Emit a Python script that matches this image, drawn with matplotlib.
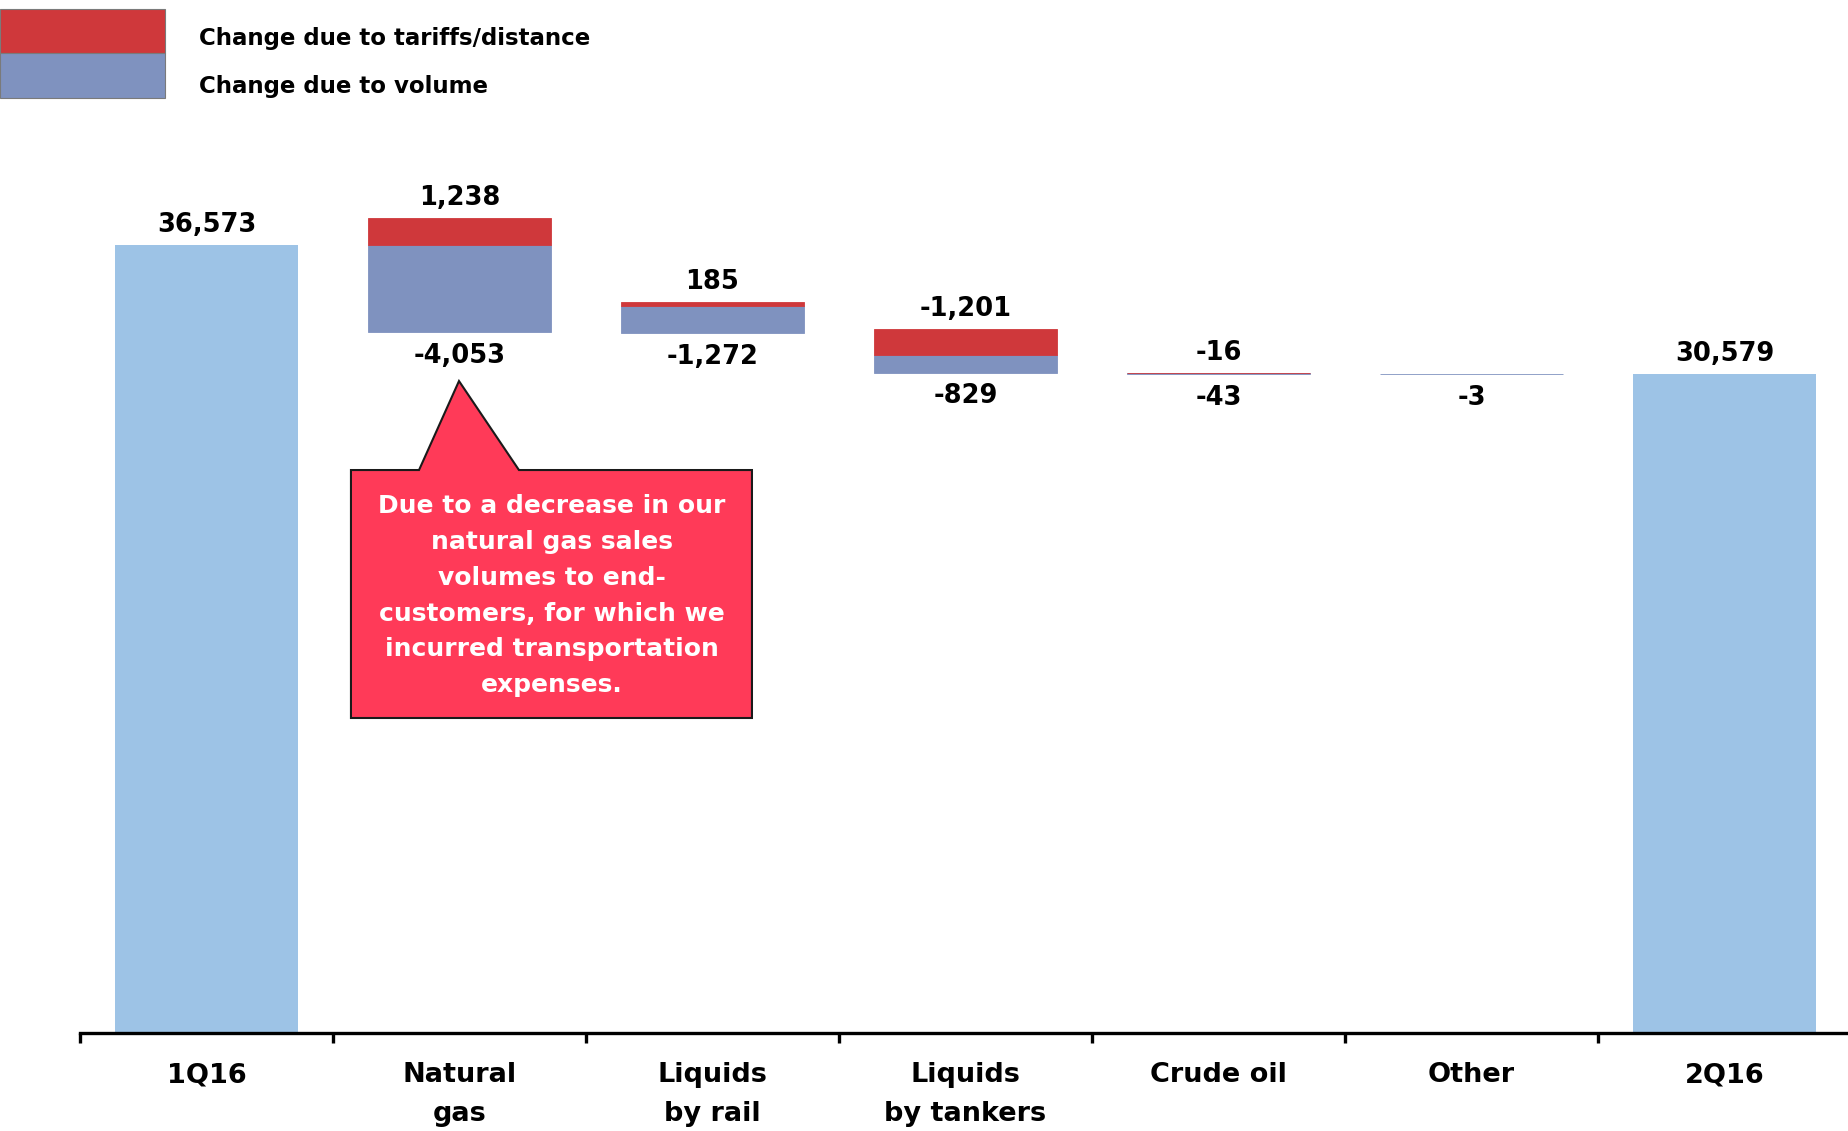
import matplotlib
matplotlib.use("Agg")
import matplotlib.pyplot as plt
from matplotlib.patches import Polygon, Rectangle

categories = ["1Q16", "Natural\ngas", "Liquids\nby rail", "Liquids\nby tankers",
              "Crude oil", "Other", "2Q16"]
start_total = 36573
end_total = 30579
tariff_change = [1238, 185, -1201, -16, None]     # per step, None = no tariff part
volume_change = [-4053, -1272, -829, -43, -3]

RED = "#CF383B"
BLUE = "#7F92BF"
TOTAL = "#9DC3E6"
CALLOUT = "#FF3A58"
FONT = "DejaVu Sans"

plt.rcParams["font.family"] = FONT
plt.rcParams["font.weight"] = "bold"

W, H = 1849, 1131
fig = plt.figure(figsize=(W / 100, H / 100), dpi=100)
ax = fig.add_axes([80 / W, 0.0867, 1771 / W, 0.9133])
ax.set_xlim(-0.5, 6.5)
ax.set_ylim(0, 47950)

bw = 0.72


def fmt(v):
    return f"{v:,}"


def label(x, y, v, above):
    ax.annotate(fmt(v), (x, y), xytext=(0, 14.5 if above else -17),
                textcoords="offset points", ha="center", va="center",
                fontsize=18.5, fontweight="bold")


# totals
ax.bar(0, start_total, width=bw, color=TOTAL)
ax.bar(6, end_total, width=bw, color=TOTAL)
label(0, start_total, start_total, True)
label(6, end_total, end_total, True)

# floating steps
level = start_total
for i, (t, v) in enumerate(zip(tariff_change, volume_change), start=1):
    up = level
    down = level
    for val, col, z in ((t, RED, 3), (v, BLUE, 2)):
        if val is None:
            continue
        if val >= 0:
            ax.bar(i, val, bottom=up, width=bw, color=col, edgecolor=col,
                   lw=0.6, zorder=z)
            up += val
        else:
            ax.bar(i, -val, bottom=down + val, width=bw, color=col,
                   edgecolor=col, lw=0.6, zorder=z)
            down += val
    if t is not None:
        label(i, up, t, True)
    label(i, down, v, False)
    level = level + (t or 0) + v

# axis styling
for s in ("top", "right", "left"):
    ax.spines[s].set_visible(False)
ax.spines["bottom"].set_linewidth(2.4)
ax.spines["bottom"].set_zorder(5)
ax.set_yticks([])
ax.set_xticks([i - 0.5 for i in range(8)])
ax.set_xticklabels([])
ax.tick_params(axis="x", which="major", direction="out", length=7, width=2.4)
ax.set_xticks(range(7), minor=True)
ax.set_xticklabels(categories, minor=True, fontsize=19.5, fontweight="bold",
                   linespacing=1.62)
ax.tick_params(axis="x", which="minor", length=0, pad=21)

# legend (stacked swatches)
fig.patches.append(Rectangle((0, 1 - 53 / H), 165 / W, 44 / H, transform=fig.transFigure,
                             facecolor=RED, edgecolor="#7a7a7a", lw=0.8))
fig.patches.append(Rectangle((0, 1 - 98 / H), 165 / W, 45 / H, transform=fig.transFigure,
                             facecolor=BLUE, edgecolor="#7a7a7a", lw=0.8))
fig.text(199 / W, 1 - 39 / H, "Change due to tariffs/distance", fontsize=16.5,
         fontweight="bold", va="center", ha="left")
fig.text(199 / W, 1 - 86 / H, "Change due to volume", fontsize=16.5,
         fontweight="bold", va="center", ha="left")

# callout box pointing at the natural gas volume drop
call = Polygon([(0.571, 26131), (0.840, 26131), (0.998, 30262), (1.235, 26131),
                (2.156, 26131), (2.156, 14620), (0.571, 14620)],
               closed=True, facecolor=CALLOUT, edgecolor="#1a1a1a", lw=1.5, zorder=4)
ax.add_patch(call)
ax.text(1.366, 20300,
        "Due to a decrease in our\nnatural gas sales\nvolumes to end-\n"
        "customers, for which we\nincurred transportation\nexpenses.",
        ha="center", va="center", color="white", fontsize=18, fontweight="bold",
        linespacing=1.62, zorder=5)

fig.savefig("out.png", dpi=100)
